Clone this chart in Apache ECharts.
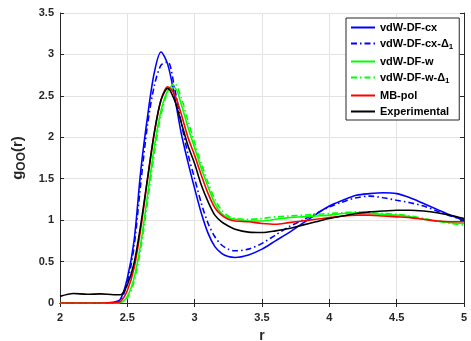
<!DOCTYPE html>
<html><head><meta charset="utf-8">
<script src="https://cdn.jsdelivr.net/npm/echarts@6/dist/echarts.min.js"></script>
<style>html,body{margin:0;padding:0;background:#fff}#c{width:471px;height:341px}</style>
</head><body><div id="c"></div>
<script>
const r = [2.0,2.1,2.2,2.3,2.4,2.45,2.5,2.55,2.6,2.65,2.7,2.75,2.8,2.85,2.9,2.95,3.0,3.05,3.1,3.15,3.2,3.25,3.3,3.4,3.5,3.6,3.7,3.8,3.9,4.0,4.1,4.2,4.3,4.4,4.5,4.6,4.7,4.8,4.9,5.0];
const cx = [0,0,0,0,0.01,0.05,0.3,0.75,1.6,2.25,2.78,3.03,2.88,2.5,2.05,1.7,1.38,1.08,0.84,0.68,0.6,0.56,0.55,0.58,0.65,0.75,0.85,0.96,1.07,1.17,1.24,1.3,1.32,1.33,1.32,1.27,1.2,1.13,1.06,1.0];
const cxD = [0,0,0,0,0.005,0.03,0.25,0.68,1.45,2.15,2.62,2.87,2.91,2.6,2.18,1.8,1.5,1.2,0.96,0.8,0.7,0.65,0.63,0.65,0.72,0.82,0.92,1.0,1.08,1.16,1.22,1.27,1.29,1.27,1.24,1.21,1.17,1.11,1.05,1.0];
const w = [0,0,0,0,0,0.005,0.08,0.3,0.72,1.3,1.88,2.32,2.56,2.6,2.4,2.12,1.87,1.62,1.4,1.2,1.08,1.03,1.01,0.99,0.99,1.01,1.03,1.04,1.05,1.06,1.08,1.09,1.08,1.07,1.06,1.04,1.01,0.99,0.97,0.96];
const wD = [0,0,0,0,0,0.003,0.06,0.26,0.66,1.22,1.8,2.27,2.55,2.65,2.48,2.2,1.93,1.68,1.45,1.25,1.12,1.05,1.02,1.01,1.02,1.04,1.05,1.06,1.07,1.08,1.09,1.1,1.09,1.08,1.07,1.05,1.02,0.99,0.96,0.94];
const mbpol = [0,0,0,0,0.005,0.02,0.15,0.42,0.9,1.5,2.05,2.45,2.61,2.52,2.28,2.0,1.78,1.54,1.32,1.15,1.06,1.01,0.99,0.98,0.96,0.95,0.97,0.99,1.01,1.03,1.05,1.06,1.06,1.05,1.04,1.03,1.01,0.99,0.98,0.98];
const expt = [0.08,0.115,0.105,0.11,0.1,0.1,0.22,0.48,0.95,1.5,2.05,2.45,2.59,2.45,2.18,1.9,1.68,1.42,1.22,1.06,0.98,0.93,0.89,0.855,0.85,0.87,0.9,0.94,0.98,1.02,1.05,1.08,1.1,1.11,1.12,1.12,1.11,1.09,1.06,1.02];
const names = ['vdW-DF-cx','vdW-DF-cx-Δ{sub|1}','vdW-DF-w','vdW-DF-w-Δ{sub|1}','MB-pol','Experimental'];
const xTicks = ['2','2.5','3','3.5','4','4.5','5'];
const yTicks = ['0','0.5','1','1.5','2','2.5','3','3.5'];

const FONT = 'Liberation Sans, Arial, Helvetica, sans-serif';
const AX = '#262626';
const dashDot = [6,3,1.5,3];
function mk(name, vals, color, dash){
  return {name, type:'line', xAxisIndex:0, yAxisIndex:0, showSymbol:false, symbol:'none', smooth:0.3,
    data: r.map((x,i)=>[x, vals[i]]),
    lineStyle:{color, width:1.6, type: dash ? dashDot : 'solid'}, itemStyle:{color}, z:3};
}
const chart = echarts.init(document.getElementById('c'), null, {renderer:'canvas'});
const axBase = {axisLine:{show:true,lineStyle:{color:AX,width:1}}, axisTick:{show:true,inside:true,length:4,lineStyle:{color:AX}}};
chart.setOption({
  animation:false,
  grid:{left:60,right:7,top:13,bottom:38,containLabel:false,outerBoundsMode:'none'},
  xAxis:[
    Object.assign({type:'value',min:2,max:5,interval:0.5,position:'bottom',
      axisLabel:{color:AX,fontFamily:FONT,fontWeight:'bold',fontSize:11,margin:9,formatter:v=>xTicks[Math.round((v-2)/0.5)]},
      splitLine:{show:true,lineStyle:{color:'#e3e3e3',width:1}},
      name:'r',nameLocation:'middle',nameGap:26,nameTextStyle:{color:AX,fontFamily:FONT,fontWeight:'bold',fontSize:14}},axBase),
    Object.assign({type:'value',min:2,max:5,interval:0.5,position:'top',axisLabel:{show:false},splitLine:{show:false}},axBase)
  ],
  yAxis:[
    Object.assign({type:'value',min:0,max:3.5,interval:0.5,position:'left',
      axisLabel:{color:AX,fontFamily:FONT,fontWeight:'bold',fontSize:11,margin:6,formatter:v=>yTicks[Math.round(v/0.5)]},
      splitLine:{show:true,lineStyle:{color:'#e3e3e3',width:1}},
      name:'g{sub|OO}(r)',nameLocation:'middle',nameGap:22,nameRotate:90,
      nameTextStyle:{color:AX,fontFamily:FONT,fontWeight:'bold',fontSize:15,
        rich:{sub:{fontFamily:FONT,fontWeight:'bold',fontSize:12,color:AX,verticalAlign:'bottom',padding:[7,0,0,0]}}}},axBase),
    Object.assign({type:'value',min:0,max:3.5,interval:0.5,position:'right',axisLabel:{show:false},splitLine:{show:false}},axBase)
  ],
  legend:{
    orient:'vertical', left:346, top:18, width:112,
    backgroundColor:'#fff', borderColor:'#262626', borderWidth:1, padding:[4,6,3,4],
    itemWidth:24, itemHeight:10, itemGap:5,
    itemStyle:{opacity:0},
    textStyle:{color:'#000',fontFamily:FONT,fontWeight:'bold',fontSize:11,
      rich:{sub:{fontFamily:FONT,fontWeight:'bold',fontSize:8,color:'#000',padding:[7,0,0,0]}}},
    data:names
  },
  series:[
    mk(names[0],cx,'#0000ff',false),
    mk(names[1],cxD,'#0000ff',true),
    mk(names[2],w,'#00ff00',false),
    mk(names[3],wD,'#00ff00',true),
    mk(names[4],mbpol,'#ff0000',false),
    mk(names[5],expt,'#000000',false)
  ]
});
</script></body></html>
